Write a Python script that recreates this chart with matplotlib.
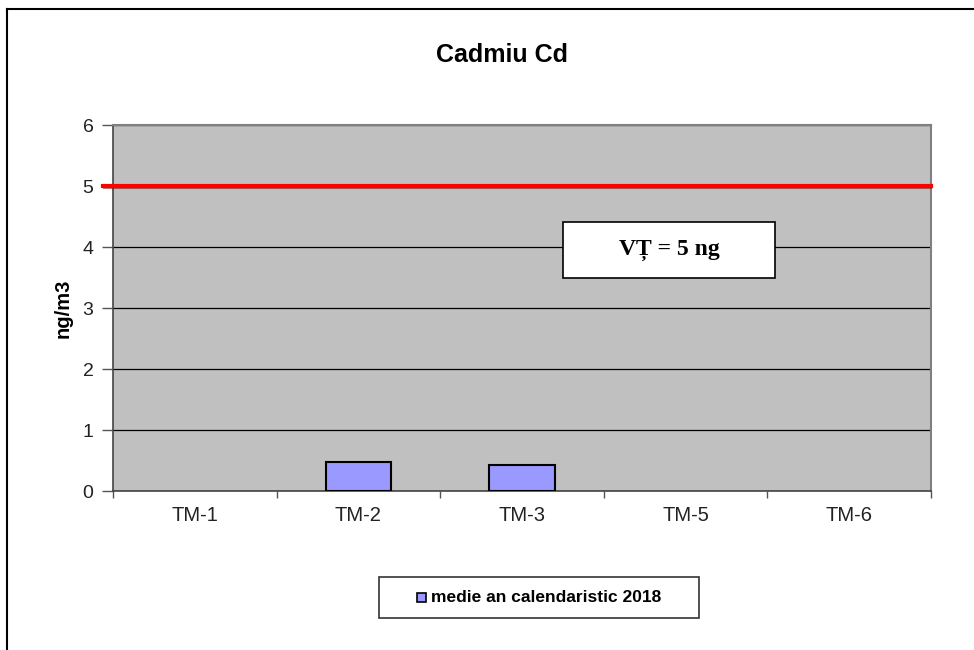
import matplotlib
matplotlib.use("Agg")
import matplotlib.pyplot as plt
from matplotlib.lines import Line2D
from matplotlib.patches import Rectangle

categories = ["TM-1", "TM-2", "TM-3", "TM-5", "TM-6"]
values = [0.0, 0.48, 0.42, 0.0, 0.0]
series_label = "medie an calendaristic 2018"
limit_value = 5
limit_text = "VȚ = 5 ng"
title = "Cadmiu Cd"
ylabel = "ng/m3"
yticks = [0, 1, 2, 3, 4, 5, 6]

plt.rcParams['font.family'] = ['Liberation Sans', 'DejaVu Sans']

W, H = 974, 650
fig = plt.figure(figsize=(W / 100, H / 100), dpi=100)
fig.patch.set_facecolor("white")

# outer frame (top and left only)
fig.add_artist(Line2D([7 / W, 7 / W], [0, 1 - 9 / H], transform=fig.transFigure, color="black", lw=1.5))
fig.add_artist(Line2D([7 / W, 1], [1 - 9 / H, 1 - 9 / H], transform=fig.transFigure, color="black", lw=1.5))

left, right, top, bottom = 113, 931, 125, 491
ax = fig.add_axes([left / W, 1 - bottom / H, (right - left) / W, (bottom - top) / H])
ax.set_facecolor("#C0C0C0")

x = list(range(len(categories)))
ax.bar(x, values, width=0.4, color="#9999FF", edgecolor="black",
       linewidth=[1.5 if v > 0 else 0 for v in values], zorder=3)

ax.set_xlim(-0.5, len(categories) - 0.5)
ax.set_ylim(0, 6)
ax.set_yticks(yticks)
ax.set_yticklabels([str(t) for t in yticks], fontsize=14, color="#222222")
ax.set_xticks(x)
ax.set_xticklabels(categories, fontsize=14.5, color="#222222")
ax.tick_params(axis="x", length=0, pad=11)
ax.tick_params(axis="y", length=8, width=1, color="#555555", pad=6)
# category boundary ticks
ax.set_xticks([i - 0.5 for i in range(len(categories) + 1)], minor=True)
ax.tick_params(axis="x", which="minor", length=5, width=1, color="#555555")

ax.yaxis.grid(True, color="black", lw=0.9, zorder=1)
ax.set_axisbelow(True)
for s in ["left", "bottom"]:
    ax.spines[s].set_color("#444444")
    ax.spines[s].set_linewidth(1.2)
for s in ["right", "top"]:
    ax.spines[s].set_color("#808080")
    ax.spines[s].set_linewidth(1.5)

ax.set_ylabel(ylabel, fontsize=14.5, fontweight="bold", labelpad=7)

# limit line
ax.axhline(limit_value, xmin=-0.012, xmax=1.0, color="#FF0000", lw=3, clip_on=False, zorder=4)
ax.axhline(limit_value - 0.03, xmin=-0.012, xmax=1.0, color="#800000", lw=0.8, clip_on=False, zorder=4, alpha=0.5)

# annotation box
bx0, bx1, by0, by1 = 563, 775, 222, 278
fig.add_artist(Rectangle((bx0 / W, 1 - by1 / H), (bx1 - bx0) / W, (by1 - by0) / H,
                         transform=fig.transFigure, facecolor="white", edgecolor="black", lw=1.2, zorder=5))
fig.text((bx0 + bx1) / 2 / W, 1 - (by0 + by1) / 2 / H, limit_text, ha="center", va="center",
         fontsize=17, fontweight="bold", family=["Liberation Serif", "DejaVu Serif"], zorder=6)

fig.text(502 / W, 1 - 55 / H, title, ha="center", va="center", fontsize=18, fontweight="bold")

# legend
lx0, lx1, ly0, ly1 = 379, 699, 577, 618
fig.add_artist(Rectangle((lx0 / W, 1 - ly1 / H), (lx1 - lx0) / W, (ly1 - ly0) / H,
                         transform=fig.transFigure, facecolor="white", edgecolor="#333333", lw=1.2))
fig.add_artist(Rectangle((417 / W, 1 - 602 / H), 9 / W, 9 / H, transform=fig.transFigure,
                         facecolor="#9999FF", edgecolor="black", lw=1.2))
fig.text(431 / W, 1 - 597 / H, series_label, ha="left", va="center", fontsize=12.5, fontweight="bold")

fig.savefig("out.png", dpi=100)
